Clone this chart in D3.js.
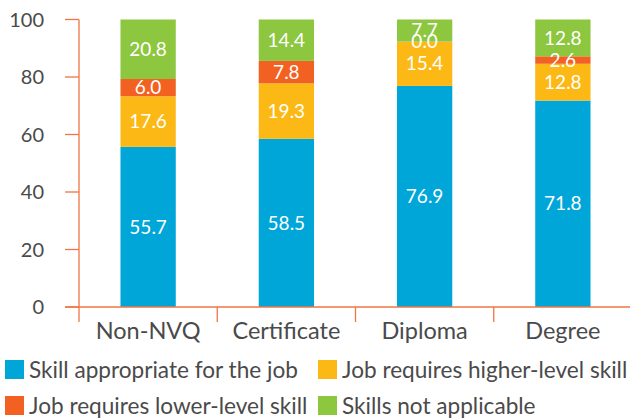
<!DOCTYPE html>
<html>
<head>
<meta charset="utf-8">
<script src="https://cdn.jsdelivr.net/npm/d3@7"></script>
<style>
  body { margin: 0; background: #fff; }
  svg text { font-family: Lato, "Open Sans", sans-serif; }
</style>
</head>
<body>
<svg id="chart" width="630" height="418"></svg>
<script>
var categories = ["Non-NVQ", "Certificate", "Diploma", "Degree"];
var seriesNames = ["Skill appropriate for the job", "Job requires higher-level skill",
                   "Job requires lower-level skill", "Skills not applicable"];
var appropriate = [55.7, 58.5, 76.9, 71.8];
var higher = [17.6, 19.3, 15.4, 12.8];
var lower = [6.0, 7.8, 0.0, 2.6];
var notApplicable = [20.8, 14.4, 7.7, 12.8];
var yTicks = [0, 20, 40, 60, 80, 100];
var colors = ["#00a6d8", "#fcb815", "#f26122", "#8dc63f"];

var svg = d3.select("#chart");
var axisColor = "#f07445";
var textColor = "#4a4a4a";

var x = d3.scaleBand().domain(categories).range([79, 632]).paddingInner(0.6).paddingOuter(0.3);
var xOuter = d3.scaleBand().domain(categories).range([79, 632]);
var y = d3.scaleLinear().domain([0, 100]).range([307, 19.5]);

var rows = categories.map(function (c, i) {
    return { cat: c, s0: appropriate[i], s1: higher[i], s2: lower[i], s3: notApplicable[i] };
});
var stack = d3.stack().keys(["s0", "s1", "s2", "s3"]);
var layers = stack(rows);

// bars
var g = svg.append("g");
layers.forEach(function (layer, k) {
    g.append("g").selectAll("rect")
        .data(layer)
        .enter()
        .append("rect")
        .attr("x", function (d) { return x(d.data.cat); })
        .attr("width", x.bandwidth())
        .attr("y", function (d) { return y(Math.min(d[1], 100)); })
        .attr("height", function (d) { return y(d[0]) - y(Math.min(d[1], 100)); })
        .attr("fill", colors[k]);
});

// value labels
layers.forEach(function (layer, k) {
    g.append("g").selectAll("text")
        .data(layer)
        .enter()
        .append("text")
        .attr("x", function (d) { return x(d.data.cat) + x.bandwidth() / 2; })
        .attr("y", function (d) { return y((d[0] + Math.min(d[1], 100)) / 2); })
        .attr("dy", "0.35em")
        .attr("text-anchor", "middle")
        .attr("fill", "#fff")
        .style("font-size", "19px")
        .text(function (d) { return (d[1] - d[0]).toFixed(1); });
});

// y axis
var yAxis = svg.append("g");
yAxis.append("line")
    .attr("x1", 79).attr("x2", 79)
    .attr("y1", y(100)).attr("y2", 322)
    .attr("stroke", axisColor).attr("stroke-width", 1.3);
yAxis.selectAll(".tick")
    .data(yTicks)
    .enter()
    .append("line")
    .attr("x1", 65).attr("x2", 79)
    .attr("y1", function (d) { return y(d); })
    .attr("y2", function (d) { return y(d); })
    .attr("stroke", axisColor).attr("stroke-width", 1.3);
yAxis.selectAll("text")
    .data(yTicks)
    .enter()
    .append("text")
    .attr("x", 44)
    .attr("y", function (d) { return y(d); })
    .attr("dy", "0.35em")
    .attr("text-anchor", "end")
    .attr("fill", textColor)
    .style("font-size", "20px")
    .text(function (d) { return d; });

// x axis
var xAxis = svg.append("g");
xAxis.append("line")
    .attr("x1", 65).attr("x2", 630)
    .attr("y1", y(0)).attr("y2", y(0))
    .attr("stroke", axisColor).attr("stroke-width", 1.3);
xAxis.selectAll(".div")
    .data(categories)
    .enter()
    .append("line")
    .attr("x1", function (d) { return xOuter(d) + xOuter.bandwidth(); })
    .attr("x2", function (d) { return xOuter(d) + xOuter.bandwidth(); })
    .attr("y1", y(0)).attr("y2", 322)
    .attr("stroke", axisColor).attr("stroke-width", 1.3);
xAxis.selectAll("text")
    .data(categories)
    .enter()
    .append("text")
    .attr("x", function (d) { return x(d) + x.bandwidth() / 2; })
    .attr("y", 339)
    .attr("text-anchor", "middle")
    .attr("fill", textColor)
    .style("font-size", "23.5px")
    .text(function (d) { return d; });

// legend
var legendPos = [[5, 370], [318, 370], [5, 406], [318, 406]];
var legend = svg.append("g").selectAll("g")
    .data(seriesNames)
    .enter()
    .append("g")
    .attr("transform", function (d, i) { return "translate(" + legendPos[i][0] + "," + legendPos[i][1] + ")"; });
legend.append("rect")
    .attr("x", 0).attr("y", -10)
    .attr("width", 19).attr("height", 19)
    .attr("fill", function (d, i) { return colors[i]; });
legend.append("text")
    .attr("x", 24)
    .attr("y", 0)
    .attr("dy", "0.35em")
    .attr("fill", textColor)
    .style("font-size", "22.6px")
    .text(function (d) { return d; });
</script>
</body>
</html>
